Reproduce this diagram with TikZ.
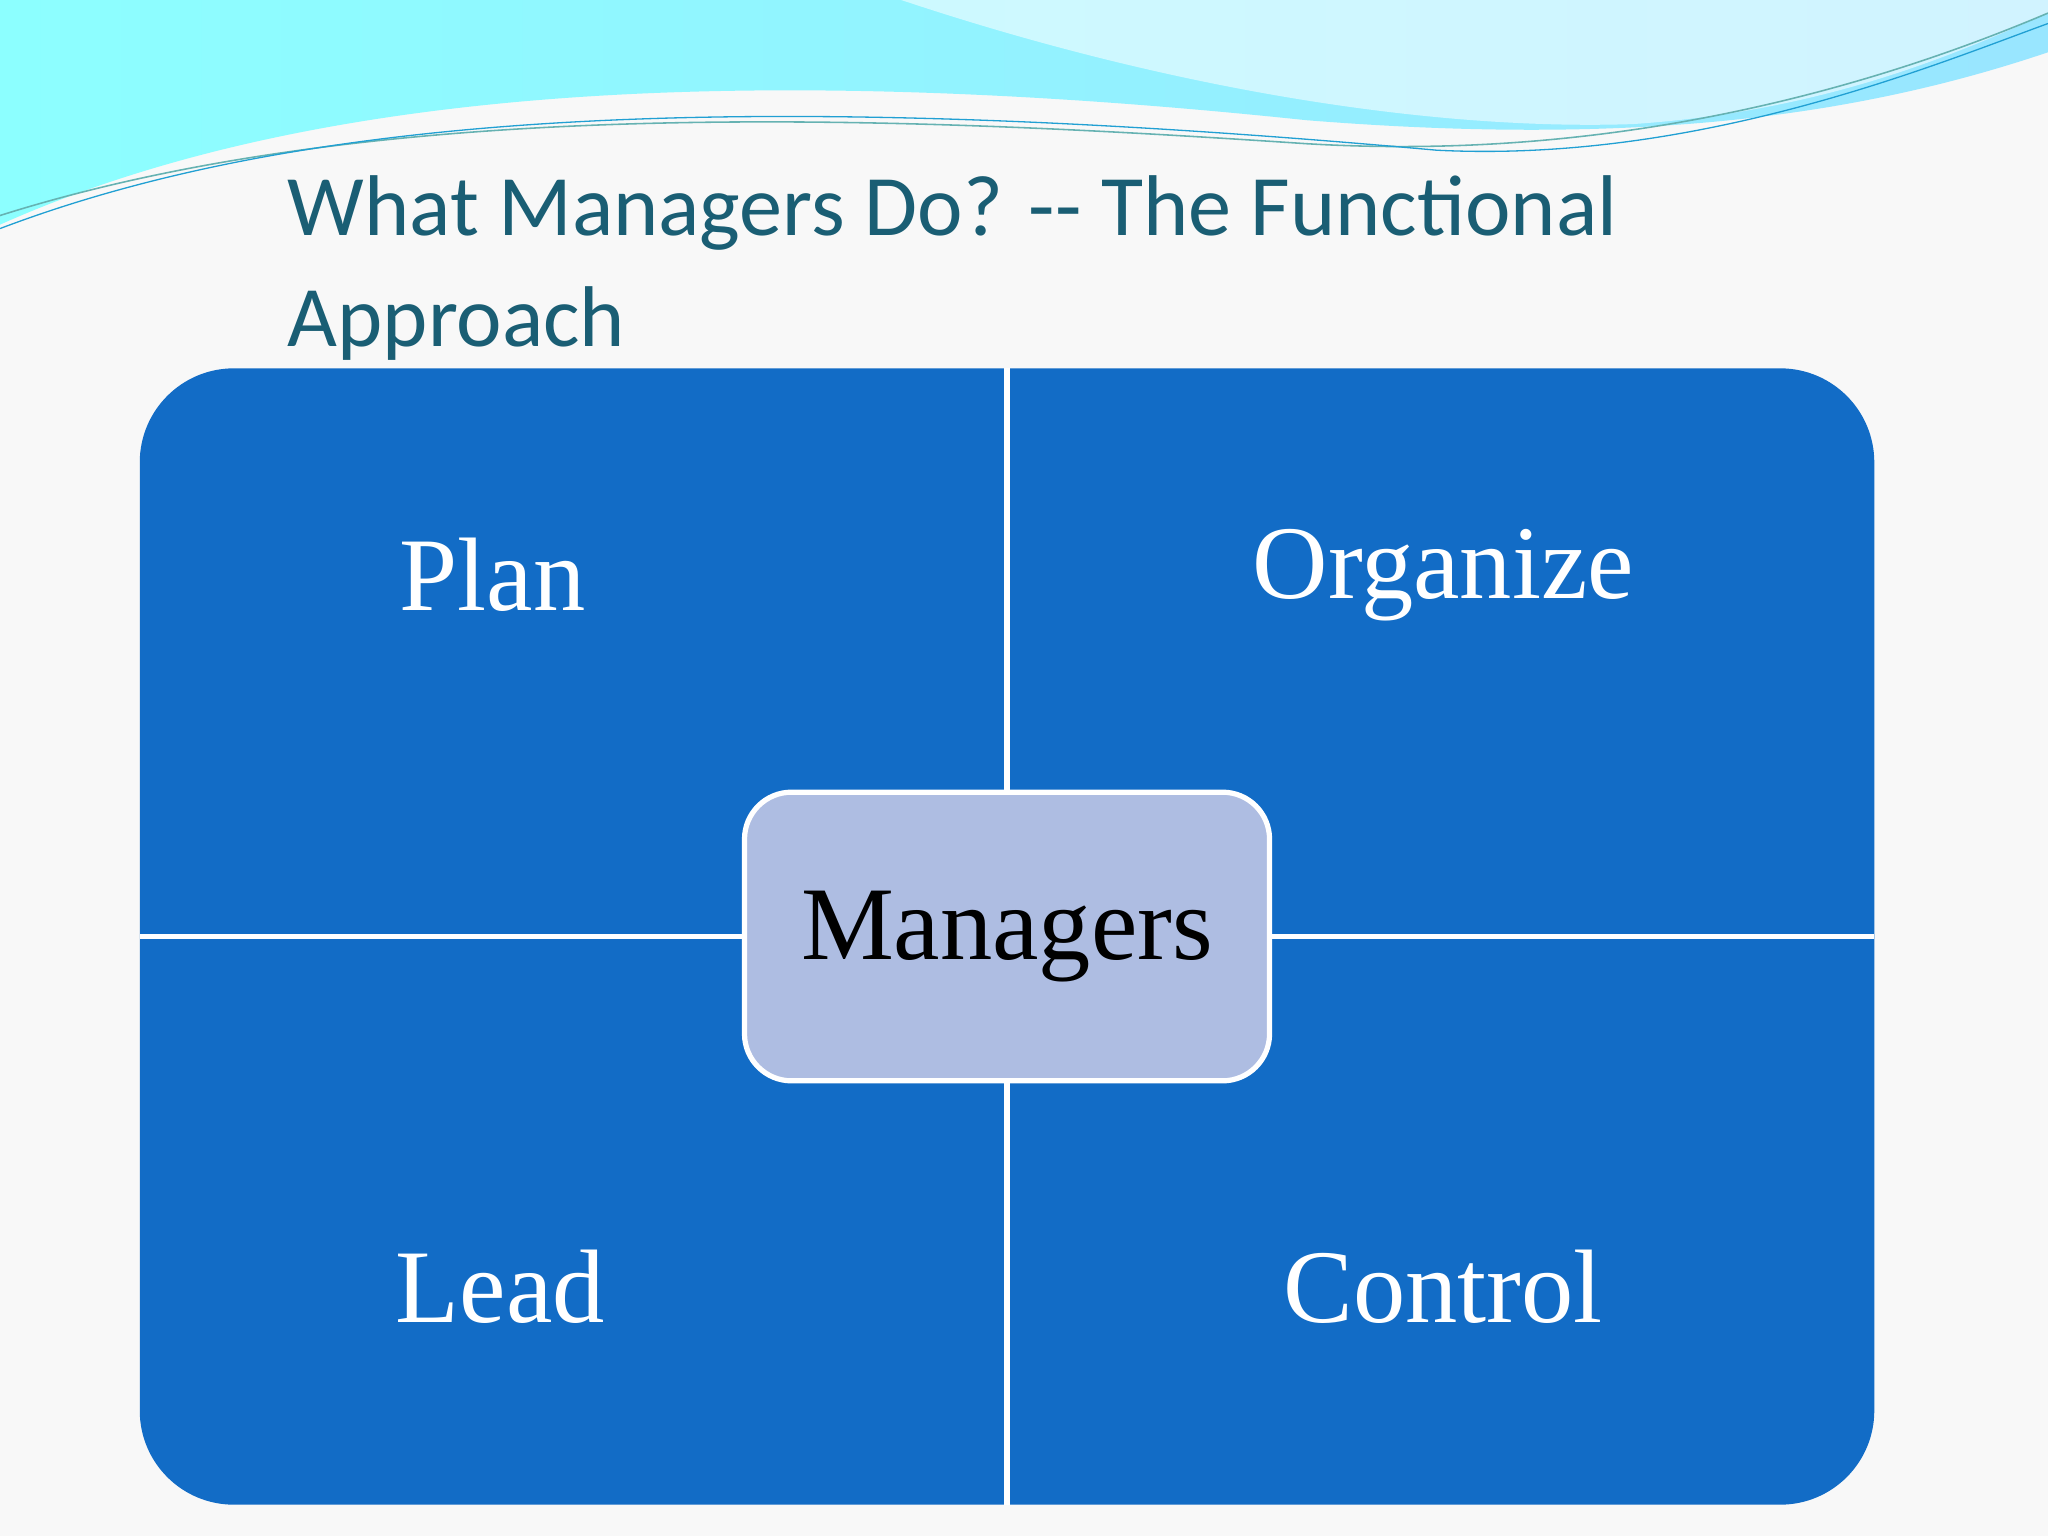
\documentclass[tikz,border=0pt]{standalone}
\usepackage{fontspec}
\setmainfont{Liberation Serif}
\newfontfamily\titlefont{Carlito}
\definecolor{qblue}{HTML}{126CC6}
\definecolor{mgr}{HTML}{AEBDE2}
\definecolor{ttl}{HTML}{1A5E74}
\definecolor{bg}{HTML}{F8F8F8}
\tikzset{quad/.style={text=white,font=\fontsize{80}{90}\selectfont},
 sep/.style={white,line width=4pt}}
\begin{document}
\begin{tikzpicture}[x=1pt,y=-1pt]
\fill[bg] (0,0) rectangle (1568,1176);
\useasboundingbox (0,0) rectangle (1568,1176);
% waves
\shade[left color=cyan!45!white,right color=blue!25!cyan!40!white] (0,0) -- (0,172) .. controls (250,60) and (600,50) .. (1000,92) .. controls (1250,112) and (1420,90) .. (1568,40) -- (1568,0) -- cycle;
\fill[white,opacity=0.55] (690,0) .. controls (900,70) and (1100,100) .. (1250,95) .. controls (1400,85) and (1500,40) .. (1568,10) -- (1568,0) -- cycle;
\draw[teal!60,line width=1.2pt] (0,165) .. controls (300,70) and (700,90) .. (1000,110) .. controls (1250,125) and (1450,60) .. (1568,10);
\draw[cyan!70!teal,line width=1pt] (0,175) .. controls (250,80) and (600,70) .. (1100,115) .. controls (1300,125) and (1480,50) .. (1568,18);
% title
\node[anchor=base west,text=ttl,font=\titlefont\fontsize{66}{80}\selectfont,inner sep=0] (t1) at (220,180) {What Managers Do? -- The Functional};
\node[anchor=base west,text=ttl,font=\titlefont\fontsize{66}{80}\selectfont,inner sep=0] (t2) at (220,265) {Approach};
% quadrants
\fill[qblue,rounded corners=72pt] (107,282) rectangle (1435,1152);
\draw[sep] (771,282) -- (771,1152);
\draw[sep] (107,717) -- (1435,717);
\node[quad] (plan) at (377,440) {Plan};
\node[quad] (org) at (1105,440) {Organize};
\node[quad] (lead) at (383,985) {Lead};
\node[quad] (ctl) at (1105,985) {Control};
\node[draw=white,line width=4pt,fill=mgr,rounded corners=36pt,minimum width=402pt,minimum height=221pt,font=\fontsize{80}{90}\selectfont] (mg) at (771,717) {Managers};
\end{tikzpicture}
\end{document}
